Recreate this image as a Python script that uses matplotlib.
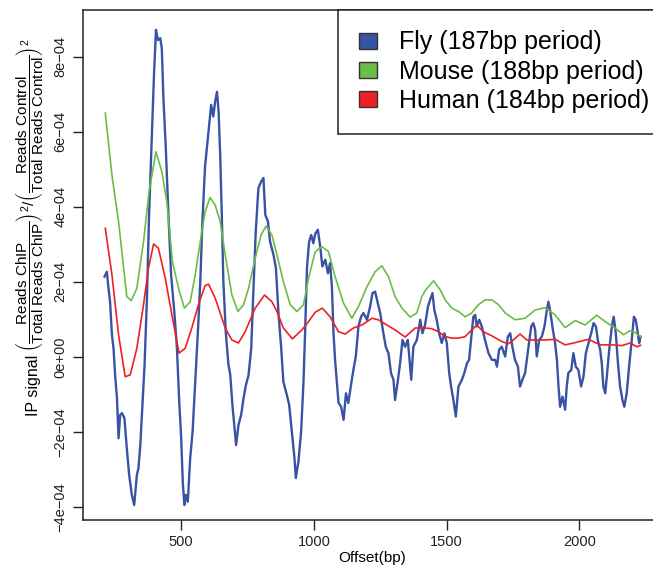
import numpy as np
import matplotlib
matplotlib.use("Agg")
import matplotlib.pyplot as plt
from matplotlib.patches import Patch

plt.rcParams['font.family'] = ['Liberation Sans', 'DejaVu Sans']
plt.rcParams['mathtext.fontset'] = 'custom'
plt.rcParams['mathtext.rm'] = 'Liberation Sans'
plt.rcParams['mathtext.it'] = 'Liberation Sans:italic'
plt.rcParams['mathtext.bf'] = 'Liberation Sans:bold'

# ---- data (values in units of 1e-4) ----
fly_bp = [211, 220, 226, 232, 239, 245, 251, 258, 264, 270,
          277, 286, 295, 304, 314, 323, 333, 339, 346, 352,
          362, 371, 379, 390, 398, 405, 412, 421, 427, 433,
          442, 452, 462, 475, 484, 492, 500, 506, 512, 518,
          525, 534, 543, 553, 563, 572, 580, 590, 603, 613,
          621, 628, 635, 641, 647, 653, 659, 668, 678, 685,
          693, 701, 707, 716, 726, 735, 744, 754, 764, 772,
          781, 791, 801, 810, 817, 827, 835, 848, 857, 867,
          877, 885, 898, 907, 917, 927, 932, 942, 952, 961,
          967, 974, 982, 990, 998, 1005, 1015, 1024, 1032, 1043,
          1053, 1061, 1068, 1074, 1080, 1087, 1093, 1103, 1112, 1121,
          1130, 1141, 1149, 1158, 1168, 1178, 1187, 1200, 1212, 1221,
          1231, 1241, 1250, 1262, 1271, 1281, 1291, 1300, 1306, 1317,
          1325, 1334, 1344, 1354, 1367, 1375, 1388, 1401, 1409, 1419,
          1430, 1438, 1447, 1454, 1463, 1472, 1482, 1492, 1501, 1510,
          1517, 1526, 1535, 1545, 1558, 1567, 1577, 1585, 1595, 1601,
          1608, 1614, 1623, 1633, 1645, 1658, 1671, 1683, 1690, 1698,
          1708, 1721, 1731, 1740, 1748, 1758, 1769, 1777, 1786, 1796,
          1809, 1819, 1827, 1834, 1840, 1849, 1859, 1869, 1878, 1884,
          1890, 1899, 1909, 1916, 1922, 1928, 1937, 1947, 1953, 1959,
          1970, 1978, 1987, 1997, 2007, 2016, 2025, 2035, 2045, 2054,
          2063, 2070, 2079, 2085, 2091, 2098, 2104, 2113, 2123, 2130,
          2138, 2145, 2154, 2163, 2170, 2179, 2188, 2198, 2206, 2213,
          2221, 2226, 2231]
fly_val = [2.14, 2.27, 1.83, 1.47, 0.59, 0.23, -0.48, -1.10, -2.17, -1.55,
           -1.50, -1.63, -2.43, -3.15, -3.68, -3.95, -3.15, -2.97, -2.35, -1.55,
           -0.21, 1.57, 3.79, 6.01, 7.61, 8.72, 8.45, 8.50, 8.23, 6.90,
           5.57, 3.79, 2.19, 1.12, 0.23, -1.10, -2.17, -3.33, -3.95, -3.68,
           -3.86, -2.70, -1.99, -0.66, 0.67, 2.01, 3.61, 5.08, 6.01, 6.72,
           6.41, 6.81, 7.07, 6.54, 5.39, 3.79, 2.01, 0.67, -0.21, -0.48,
           -1.28, -1.90, -2.35, -1.81, -1.55, -1.10, -0.75, -0.48, 0.23, 1.74,
           3.34, 4.50, 4.67, 4.77, 3.79, 3.61, 3.07, 2.72, 2.37, 1.12,
           0.23, -0.66, -1.01, -1.28, -1.99, -2.70, -3.23, -2.79, -1.99, -0.66,
           0.67, 2.37, 3.07, 3.25, 3.03, 3.28, 3.39, 2.94, 2.41, 2.59,
           2.23, 2.50, 1.87, 0.63, -0.08, -0.70, -1.23, -1.33, -1.68, -0.97,
           -1.23, -0.70, -0.35, 0.01, 0.81, 1.07, 1.17, 0.99, 1.34, 1.70,
           1.74, 1.43, 1.17, 0.63, 0.27, 0.10, -0.44, -0.61, -1.15, -0.61,
           -0.17, 0.45, 0.27, 0.45, -0.61, 0.27, 0.45, 0.99, 0.63, 0.85,
           1.34, 1.52, 1.70, 1.25, 0.99, 0.63, 0.37, 0.63, 0.37, -0.43,
           -0.79, -1.15, -1.59, -0.79, -0.61, -0.43, -0.17, -0.08, 0.63, 1.07,
           1.12, 0.81, 0.99, 0.81, 0.45, 0.10, -0.08, -0.08, -0.26, 0.19,
           0.27, 0.01, 0.54, 0.63, 0.27, -0.08, -0.26, -0.79, -0.61, -0.43,
           0.27, 0.81, 0.90, 0.72, 0.01, 0.45, 0.54, 0.81, 1.25, 1.47,
           1.25, 0.81, 0.37, -0.08, -0.79, -1.33, -1.06, -1.41, -0.79, -0.43,
           -0.35, 0.10, -0.26, -0.35, -0.79, -0.53, 0.10, 0.37, 0.63, 0.90,
           0.81, 0.45, 0.19, -0.17, -0.79, -0.97, -0.53, 0.19, 0.81, 1.07,
           0.63, -0.08, -0.79, -1.15, -1.33, -0.97, -0.26, 0.45, 1.07, 0.99,
           0.63, 0.37, 0.54]

mouse_bp = [214, 239, 264, 295, 312, 333, 358, 379, 405, 427,
            446, 467, 490, 512, 534, 553, 572, 590, 609, 628,
            647, 666, 691, 714, 735, 754, 779, 801, 820, 842,
            861, 885, 911, 936, 961, 980, 1005, 1030, 1055, 1080,
            1112, 1143, 1168, 1200, 1231, 1256, 1281, 1306, 1332, 1363,
            1388, 1407, 1419, 1451, 1476, 1495, 1520, 1545, 1570, 1595,
            1620, 1645, 1671, 1696, 1721, 1758, 1796, 1834, 1872, 1909,
            1947, 1985, 2022, 2066, 2098, 2135, 2167, 2192, 2211, 2231]
mouse_val = [6.50, 4.85, 3.61, 1.61, 1.50, 1.83, 3.07, 4.41, 5.47, 4.94,
             4.14, 2.54, 1.83, 1.30, 1.47, 2.19, 3.07, 3.87, 4.25, 4.05,
             3.61, 2.72, 1.65, 1.21, 1.39, 1.83, 2.63, 3.25, 3.49, 3.25,
             2.72, 2.01, 1.39, 1.21, 1.39, 2.10, 2.80, 2.94, 2.81, 2.14,
             1.43, 1.03, 1.34, 1.87, 2.27, 2.43, 2.14, 1.61, 1.30, 1.06,
             1.17, 1.61, 1.76, 2.03, 1.79, 1.52, 1.30, 1.21, 1.07, 1.17,
             1.39, 1.52, 1.52, 1.39, 1.17, 0.99, 1.03, 1.25, 1.31, 1.12,
             0.78, 0.97, 0.85, 1.11, 0.94, 0.77, 0.59, 0.70, 0.65, 0.54]

human_bp = [214, 239, 264, 289, 308, 333, 358, 377, 396, 414,
            440, 465, 492, 515, 540, 565, 590, 603, 628, 666,
            691, 716, 741, 779, 814, 842, 861, 885, 919, 955,
            980, 1005, 1032, 1061, 1093, 1118, 1149, 1181, 1219, 1243,
            1275, 1306, 1344, 1382, 1419, 1445, 1470, 1495, 1520, 1545,
            1570, 1595, 1614, 1639, 1671, 1708, 1733, 1752, 1777, 1803,
            1834, 1872, 1909, 1947, 1985, 2035, 2079, 2123, 2161, 2192,
            2217, 2231]
human_val = [3.43, 2.19, 0.59, -0.53, -0.48, 0.23, 1.39, 2.37, 3.01, 2.90,
             2.10, 1.12, 0.10, 0.23, 0.77, 1.39, 1.90, 1.94, 1.57, 0.77,
             0.45, 0.37, 0.67, 1.30, 1.65, 1.47, 1.21, 0.77, 0.48, 0.72,
             0.94, 1.19, 1.30, 1.07, 0.67, 0.61, 0.77, 0.85, 1.03, 0.99,
             0.85, 0.72, 0.53, 0.77, 0.77, 0.75, 0.67, 0.54, 0.50, 0.50,
             0.54, 0.72, 0.85, 0.67, 0.56, 0.41, 0.35, 0.45, 0.61, 0.45,
             0.45, 0.45, 0.47, 0.32, 0.38, 0.47, 0.32, 0.32, 0.30, 0.37,
             0.27, 0.31]

labels = ['Fly (187bp period)', 'Mouse (188bp period)', 'Human (184bp period)']
colors = ['#3953A4', '#6ABD45', '#ED2024']

x_ticks = [500, 1000, 1500, 2000]
y_ticks = [-4e-4, -2e-4, 0, 2e-4, 4e-4, 6e-4, 8e-4]
y_ticklabels = ['\u22124e\u221204', '\u22122e\u221204', '0e+00', '2e\u221204',
                '4e\u221204', '6e\u221204', '8e\u221204']

# ---- figure ----
W, H = 653, 575
fig = plt.figure(figsize=(W / 100, H / 100), dpi=100)
ax = fig.add_axes([83 / W, 55 / H, (662 - 83) / W, 510 / H])

ax.plot(fly_bp, np.array(fly_val) * 1e-4, color=colors[0], lw=1.7)
ax.plot(mouse_bp, np.array(mouse_val) * 1e-4, color=colors[1], lw=1.2)
ax.plot(human_bp, np.array(human_val) * 1e-4, color=colors[2], lw=1.2)

ax.set_xlim(130, 2312)
ax.set_ylim(-4.35e-4, 9.25e-4)

ax.set_xticks(x_ticks)
ax.set_xticklabels([str(t) for t in x_ticks], fontsize=10.5)
ax.set_yticks(y_ticks)
ax.set_yticklabels(y_ticklabels, fontsize=10.5, rotation=90, va='center')
ax.tick_params(direction='out', length=7, width=1, colors='#222222', pad=4)

for sp in ax.spines.values():
    sp.set_linewidth(1.1)
    sp.set_color('#222222')

ax.set_xlabel('Offset(bp)', fontsize=11, labelpad=1)

# y label: plain part plus the ratio expression
fig.text(41 / W, 1 - 416 / H, 'IP signal', rotation=90, ha='right', va='bottom',
         fontsize=11.5)
fig.text(30 / W, 1 - 352 / H,
         r'$\left(\dfrac{\mathrm{Reads\ ChIP}}{\mathrm{Total\ Reads\ ChIP}}\right)^2'
         r' / \left(\dfrac{\mathrm{Reads\ Control}}{\mathrm{Total\ Reads\ Control}}\right)^2$',
         rotation=90, ha='center', va='bottom', fontsize=11)

handles = [Patch(facecolor=c, edgecolor='#333333', linewidth=1) for c in colors]
leg = ax.legend(handles, labels, loc='upper right', bbox_to_anchor=(1 + 8 / 579, 1),
                borderaxespad=0, fontsize=18, frameon=True, fancybox=False,
                edgecolor='#222222', framealpha=1, handlelength=0.72,
                handleheight=0.6, handletextpad=0.9, labelspacing=0.21,
                borderpad=0.82)
leg.get_frame().set_linewidth(1.1)

fig.savefig('out.png', dpi=100)
